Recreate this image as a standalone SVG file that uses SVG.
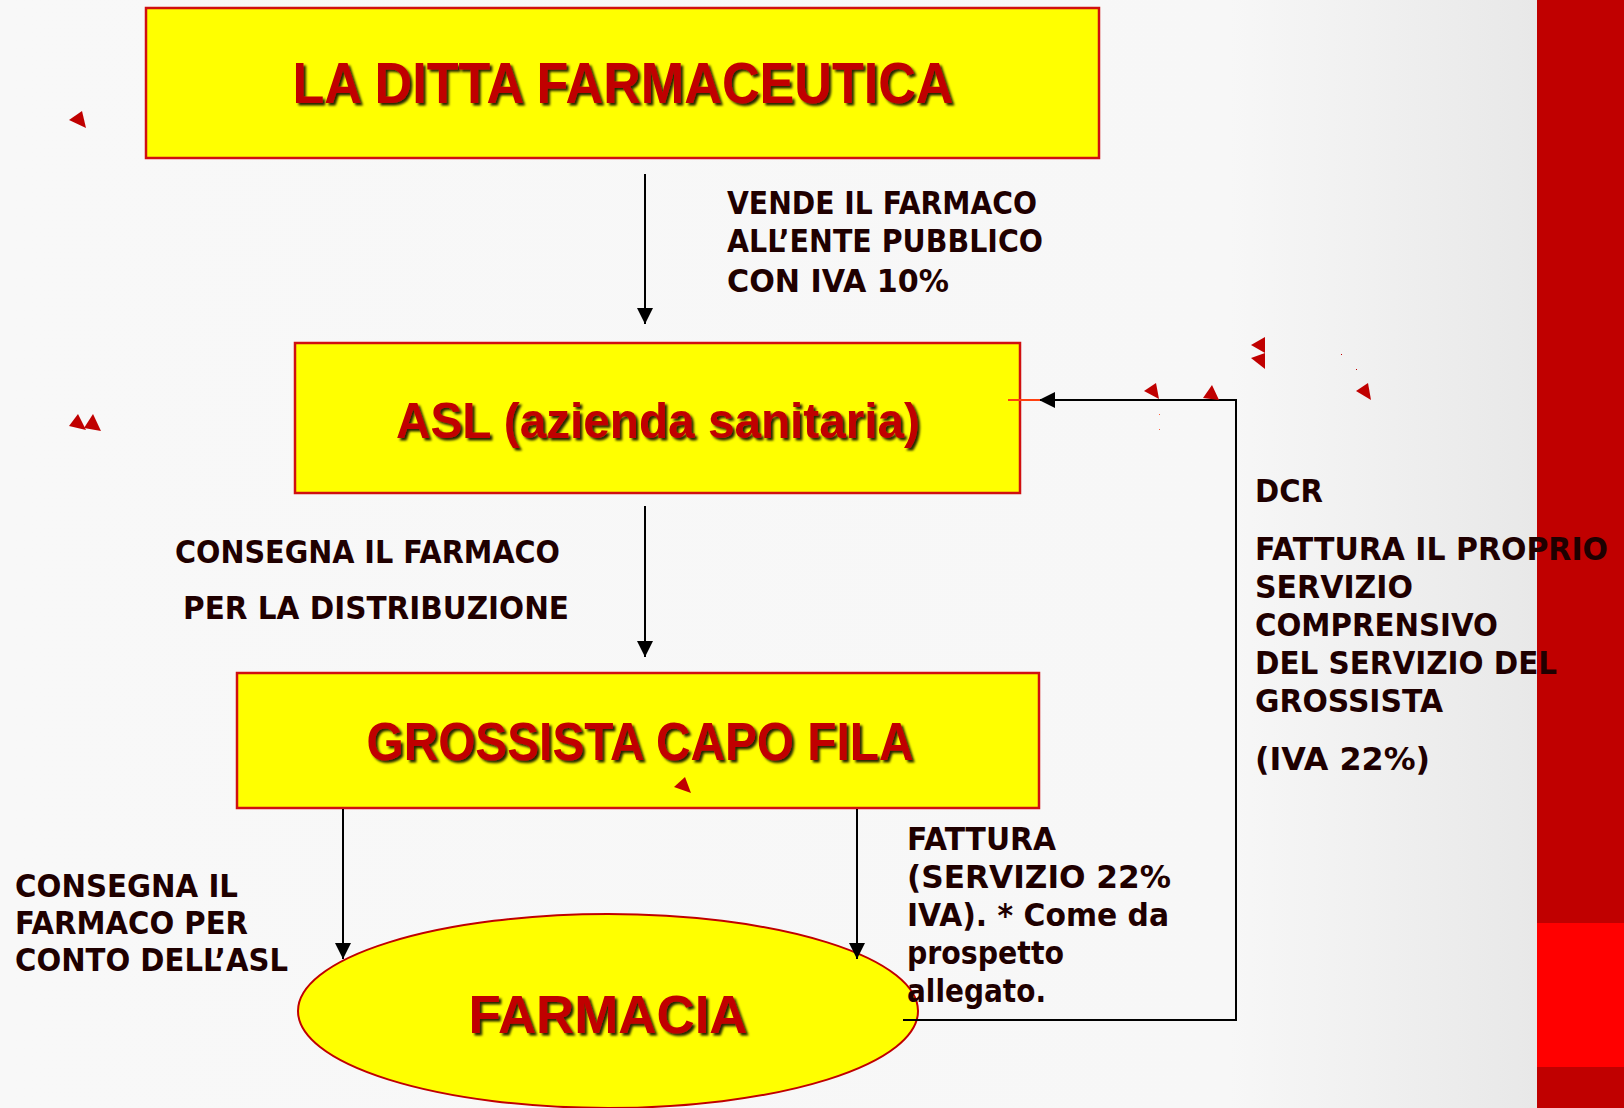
<svg xmlns="http://www.w3.org/2000/svg" width="1624" height="1108" viewBox="0 0 1624 1108">
<defs>
<linearGradient id="bg" x1="0" y1="0" x2="1" y2="0">
<stop offset="0" stop-color="#f8f8f8"/>
<stop offset="0.8" stop-color="#f7f7f7"/>
<stop offset="1" stop-color="#e8e8e8"/>
</linearGradient>
<filter id="sh" x="-5%" y="-20%" width="110%" height="140%">
<feDropShadow dx="2.5" dy="2.5" stdDeviation="0.8" flood-color="#000" flood-opacity="0.85"/>
</filter>
<marker id="ah" markerUnits="userSpaceOnUse" markerWidth="16" markerHeight="16" viewBox="0 0 16 16" refX="16" refY="8" orient="auto">
<path d="M0,0 L16,8 L0,16 z" fill="#000"/>
</marker>
<style>
.box{fill:#ffff00;stroke:#d01010;stroke-width:2.5}
.title{font-family:"Liberation Sans",Arial,sans-serif;font-weight:bold;fill:#c00000;text-anchor:middle}
.lbl{font-family:"DejaVu Sans",Verdana,sans-serif;font-weight:bold;font-size:32px;fill:#1f0000}
.conn{stroke:#000;stroke-width:2;fill:none}
.tri{fill:#c00000}
</style>
</defs>
<rect x="0" y="0" width="1537" height="1108" fill="url(#bg)"/>
<rect x="1537" y="0" width="87" height="1108" fill="#c00000"/>
<rect x="1537" y="923" width="87" height="144" fill="#ff0000"/>

<g id="node-ditta">
<rect class="box" x="146" y="8" width="953" height="150"/>
<text class="title" x="623" y="103" font-size="57" textLength="661" lengthAdjust="spacingAndGlyphs" filter="url(#sh)">LA DITTA FARMACEUTICA</text>
</g>
<g id="node-asl">
<rect class="box" x="295" y="343" width="725" height="150"/>
<text class="title" x="658" y="438" font-size="50" textLength="524" lengthAdjust="spacingAndGlyphs" filter="url(#sh)">ASL (azienda sanitaria)</text>
</g>
<g id="node-grossista">
<rect class="box" x="237" y="673" width="802" height="135"/>
<text class="title" x="640" y="760" font-size="54" textLength="547" lengthAdjust="spacingAndGlyphs" filter="url(#sh)">GROSSISTA CAPO FILA</text>
</g>
<g id="node-farmacia">
<ellipse cx="608" cy="1011" rx="310" ry="97" fill="#ffff00" stroke="#c00000" stroke-width="2"/>
<text class="title" x="608" y="1033" font-size="53" textLength="279" lengthAdjust="spacingAndGlyphs" filter="url(#sh)">FARMACIA</text>
</g>

<g id="connectors">
<line class="conn" x1="645" y1="174" x2="645" y2="324" marker-end="url(#ah)"/>
<line class="conn" x1="645" y1="506" x2="645" y2="657" marker-end="url(#ah)"/>
<line class="conn" x1="343" y1="809" x2="343" y2="959" marker-end="url(#ah)"/>
<line class="conn" x1="857" y1="809" x2="857" y2="959" marker-end="url(#ah)"/>
<polyline class="conn" points="903,1020 1236,1020 1236,400 1039,400" marker-end="url(#ah)"/>
<line x1="1008" y1="400" x2="1040" y2="400" stroke="#ff4010" stroke-width="2"/>
</g>

<g id="labels">
<text class="lbl" x="727" y="214" textLength="310" lengthAdjust="spacingAndGlyphs">VENDE IL FARMACO</text>
<text class="lbl" x="727" y="252" textLength="316" lengthAdjust="spacingAndGlyphs">ALL’ENTE PUBBLICO</text>
<text class="lbl" x="727" y="292" textLength="222" lengthAdjust="spacingAndGlyphs">CON IVA 10%</text>

<text class="lbl" x="175" y="563" textLength="385" lengthAdjust="spacingAndGlyphs">CONSEGNA IL FARMACO</text>
<text class="lbl" x="183" y="619" textLength="386" lengthAdjust="spacingAndGlyphs">PER LA DISTRIBUZIONE</text>

<text class="lbl" x="1255" y="502" textLength="68" lengthAdjust="spacingAndGlyphs">DCR</text>
<text class="lbl" x="1255" y="560" textLength="353" lengthAdjust="spacingAndGlyphs">FATTURA IL PROPRIO</text>
<text class="lbl" x="1255" y="598" textLength="158" lengthAdjust="spacingAndGlyphs">SERVIZIO</text>
<text class="lbl" x="1255" y="636" textLength="243" lengthAdjust="spacingAndGlyphs">COMPRENSIVO</text>
<text class="lbl" x="1255" y="674" textLength="302" lengthAdjust="spacingAndGlyphs">DEL SERVIZIO DEL</text>
<text class="lbl" x="1255" y="712" textLength="188" lengthAdjust="spacingAndGlyphs">GROSSISTA</text>
<text class="lbl" x="1255" y="770" textLength="175" lengthAdjust="spacingAndGlyphs">(IVA 22%)</text>

<text class="lbl" x="15" y="897" textLength="223" lengthAdjust="spacingAndGlyphs">CONSEGNA IL</text>
<text class="lbl" x="15" y="934" textLength="233" lengthAdjust="spacingAndGlyphs">FARMACO PER</text>
<text class="lbl" x="15" y="971" textLength="273" lengthAdjust="spacingAndGlyphs">CONTO DELL’ASL</text>

<text class="lbl" x="907" y="850" textLength="149" lengthAdjust="spacingAndGlyphs">FATTURA</text>
<text class="lbl" x="907" y="888" textLength="264" lengthAdjust="spacingAndGlyphs">(SERVIZIO 22%</text>
<text class="lbl" x="907" y="926" textLength="262" lengthAdjust="spacingAndGlyphs">IVA). * Come da</text>
<text class="lbl" x="907" y="964" textLength="157" lengthAdjust="spacingAndGlyphs">prospetto</text>
<text class="lbl" x="907" y="1002" textLength="139" lengthAdjust="spacingAndGlyphs">allegato.</text>
</g>

<g id="decor">
<polygon class="tri" points="69,120 82,111 86,128"/>
<polygon class="tri" points="69,426 78,414 86,430"/>
<polygon class="tri" points="84,428 93,414 101,431"/>
<polygon class="tri" points="1144,391 1156,383 1159,399"/>
<polygon class="tri" points="1203,398 1212,385 1219,400"/>
<polygon class="tri" points="1251,345 1265,337 1265,353"/>
<polygon class="tri" points="1251,358 1265,353 1265,369"/>
<polygon class="tri" points="1356,391 1368,383 1371,400"/>
<polygon class="tri" points="674,787 685,777 691,793"/>
<rect x="1341" y="354" width="1" height="1" fill="#c00000"/>
<rect x="1356" y="369" width="1" height="1" fill="#c00000"/>
<rect x="1159" y="414" width="1" height="1" fill="#ff6040"/>
<rect x="1159" y="429" width="1" height="1" fill="#ff6040"/>
</g>
</svg>
